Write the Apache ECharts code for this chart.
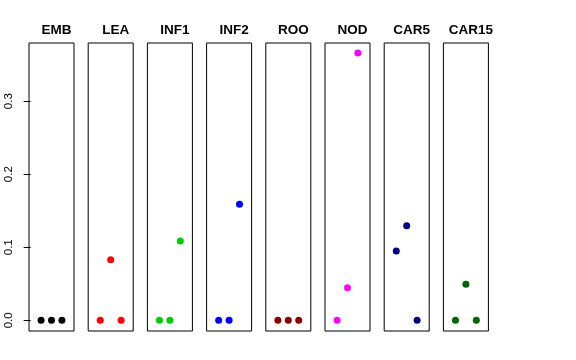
<!DOCTYPE html>
<html>
<head>
<meta charset="utf-8">
<script src="https://cdn.jsdelivr.net/npm/echarts@6/dist/echarts.min.js"></script>
<style>html,body{margin:0;padding:0;background:#fff}#c{width:576px;height:360px}</style>
</head>
<body>
<div id="c"></div>
<script>
var panels = ['EMB','LEA','INF1','INF2','ROO','NOD','CAR5','CAR15'];
var colors = ['#000000','#FF0000','#00CD00','#0000FF','#8B0000','#FF00FF','#000080','#006400'];
var xPos = [1, 2, 3];
var EMB = [0, 0, 0];
var LEA = [0, 0.083, 0];
var INF1 = [0, 0, 0.1086];
var INF2 = [0, 0, 0.159];
var ROO = [0, 0, 0];
var NOD = [0, 0.0447, 0.3658];
var CAR5 = [0.0949, 0.1296, 0];
var CAR15 = [0, 0.0493, 0];
var yTicks = [0, 0.1, 0.2, 0.3];
var values = [EMB, LEA, INF1, INF2, ROO, NOD, CAR5, CAR15];

var gLeft0 = 29, gStep = 59.2, gW = 45, gTop = 43, gH = 288;
var grids = [], xAxes = [], yAxes = [], series = [], titles = [];
panels.forEach(function(name, i){
  var L = gLeft0 + gStep * i;
  grids.push({left: L, top: gTop, width: gW, height: gH, show: true, borderColor: '#000', borderWidth: 1, backgroundColor: 'transparent'});
  xAxes.push({gridIndex: i, type: 'value', min: -0.16, max: 4.16, show: false, splitLine: {show: false}});
  yAxes.push({
    gridIndex: i, type: 'value', min: -0.0146, max: 0.3796, show: i === 0,
    splitLine: {show: false}, axisLine: {show: false},
    axisTick: {show: i === 0, length: 7, lineStyle: {color: '#000'}, customValues: yTicks},
    axisLabel: {show: i === 0, rotate: 90, margin: 14, fontSize: 11.5, color: '#000', fontFamily: 'Liberation Sans',
      customValues: yTicks, formatter: function(v){ return v.toFixed(1); }}
  });
  series.push({
    type: 'scatter', xAxisIndex: i, yAxisIndex: i, symbol: 'circle', symbolSize: 7,
    itemStyle: {color: colors[i], opacity: 1},
    data: xPos.map(function(x, k){ return [x, values[i][k]]; }),
    silent: true, animation: false
  });
  titles.push({text: name, left: L + gW / 2, top: 18, textAlign: 'center',
    textStyle: {fontSize: 13.5, fontWeight: 'bold', color: '#000', fontFamily: 'Liberation Sans'}});
});
var chart = echarts.init(document.getElementById('c'));
chart.setOption({animation: false, title: titles, grid: grids, xAxis: xAxes, yAxis: yAxes, series: series});
</script>
</body>
</html>
